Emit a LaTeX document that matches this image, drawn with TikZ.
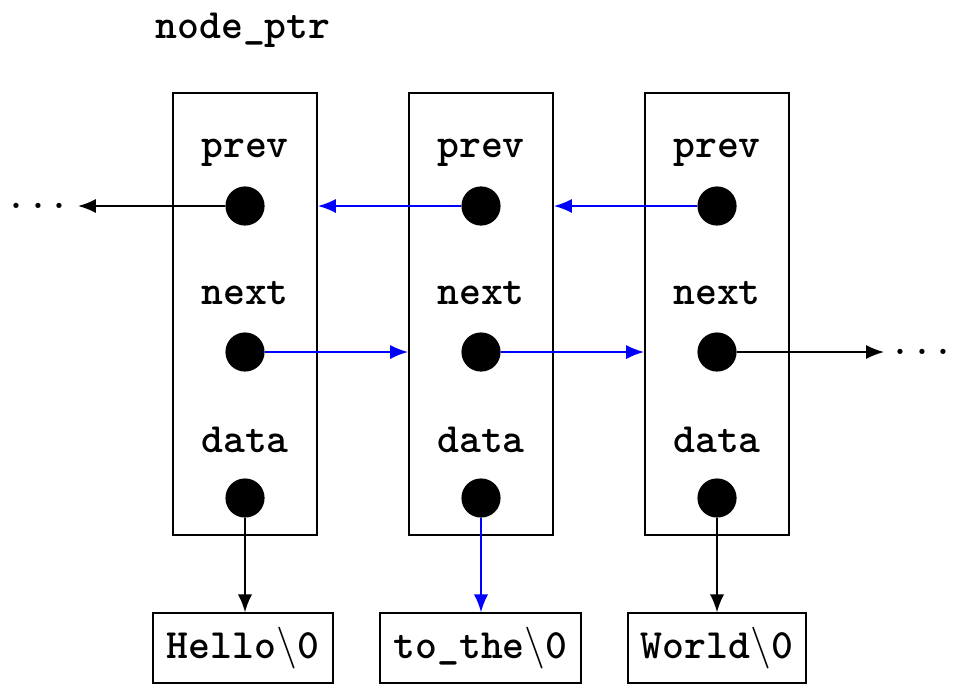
\documentclass[tikz,border=0pt]{standalone}
\usepackage{fontspec}
\usetikzlibrary{arrows.meta}
\begin{document}
\begin{tikzpicture}[x=0.24pt,y=-0.24pt,
  every node/.style={font=\ttfamily\bfseries},
  cell/.style={draw,line width=0.45pt,minimum width=34.56pt,minimum height=106.08pt,inner sep=0pt},
  dot/.style={circle,fill=black,minimum size=9.4pt,inner sep=0pt},
  strbox/.style={draw,line width=0.45pt,minimum height=16.6pt,inner xsep=2.6pt},
  arr/.style={line width=0.45pt,-{Latex[length=4.3pt,width=3.4pt]}},
  barr/.style={arr,blue}]
\useasboundingbox (0,0) rectangle (961,684);
\node at (243,30) (title) {node\_ptr};
\foreach \i/\x in {1/245,2/481,3/717}{
  \node[cell] (b\i) at (\x,314) {};
  \node at (\x,153) (lp\i) {prev};
  \node at (\x,293) (ln\i) {next};
  \node at (\x,440) (ld\i) {data};
  \node[dot] (p\i) at (\x,206) {};
  \node[dot] (n\i) at (\x,352) {};
  \node[dot] (d\i) at (\x,498) {};
}
\node[font=\ttfamily] (ldots) at (38,206) {...};
\node[font=\ttfamily] (rdots) at (922,352) {...};
\coordinate (lend) at (78,206);
\coordinate (rend) at (884,352);
\node[strbox,minimum width=43.2pt] (s1) at (243,648) {Hello$\backslash$0};
\node[strbox,minimum width=48.2pt] (s2) at (480.5,648) {to\_the$\backslash$0};
\node[strbox,minimum width=42.7pt] (s3) at (717,648) {World$\backslash$0};
\draw[arr] (p1) -- (lend);
\draw[barr] (p2) -- (p2 -| b1.east);
\draw[barr] (p3) -- (p3 -| b2.east);
\draw[barr] (n1) -- (n1 -| b2.west);
\draw[barr] (n2) -- (n2 -| b3.west);
\draw[arr] (n3) -- (rend);
\draw[arr] (d1) -- (d1 |- s1.north);
\draw[barr] (d2) -- (d2 |- s2.north);
\draw[arr] (d3) -- (d3 |- s3.north);
\end{tikzpicture}
\end{document}
